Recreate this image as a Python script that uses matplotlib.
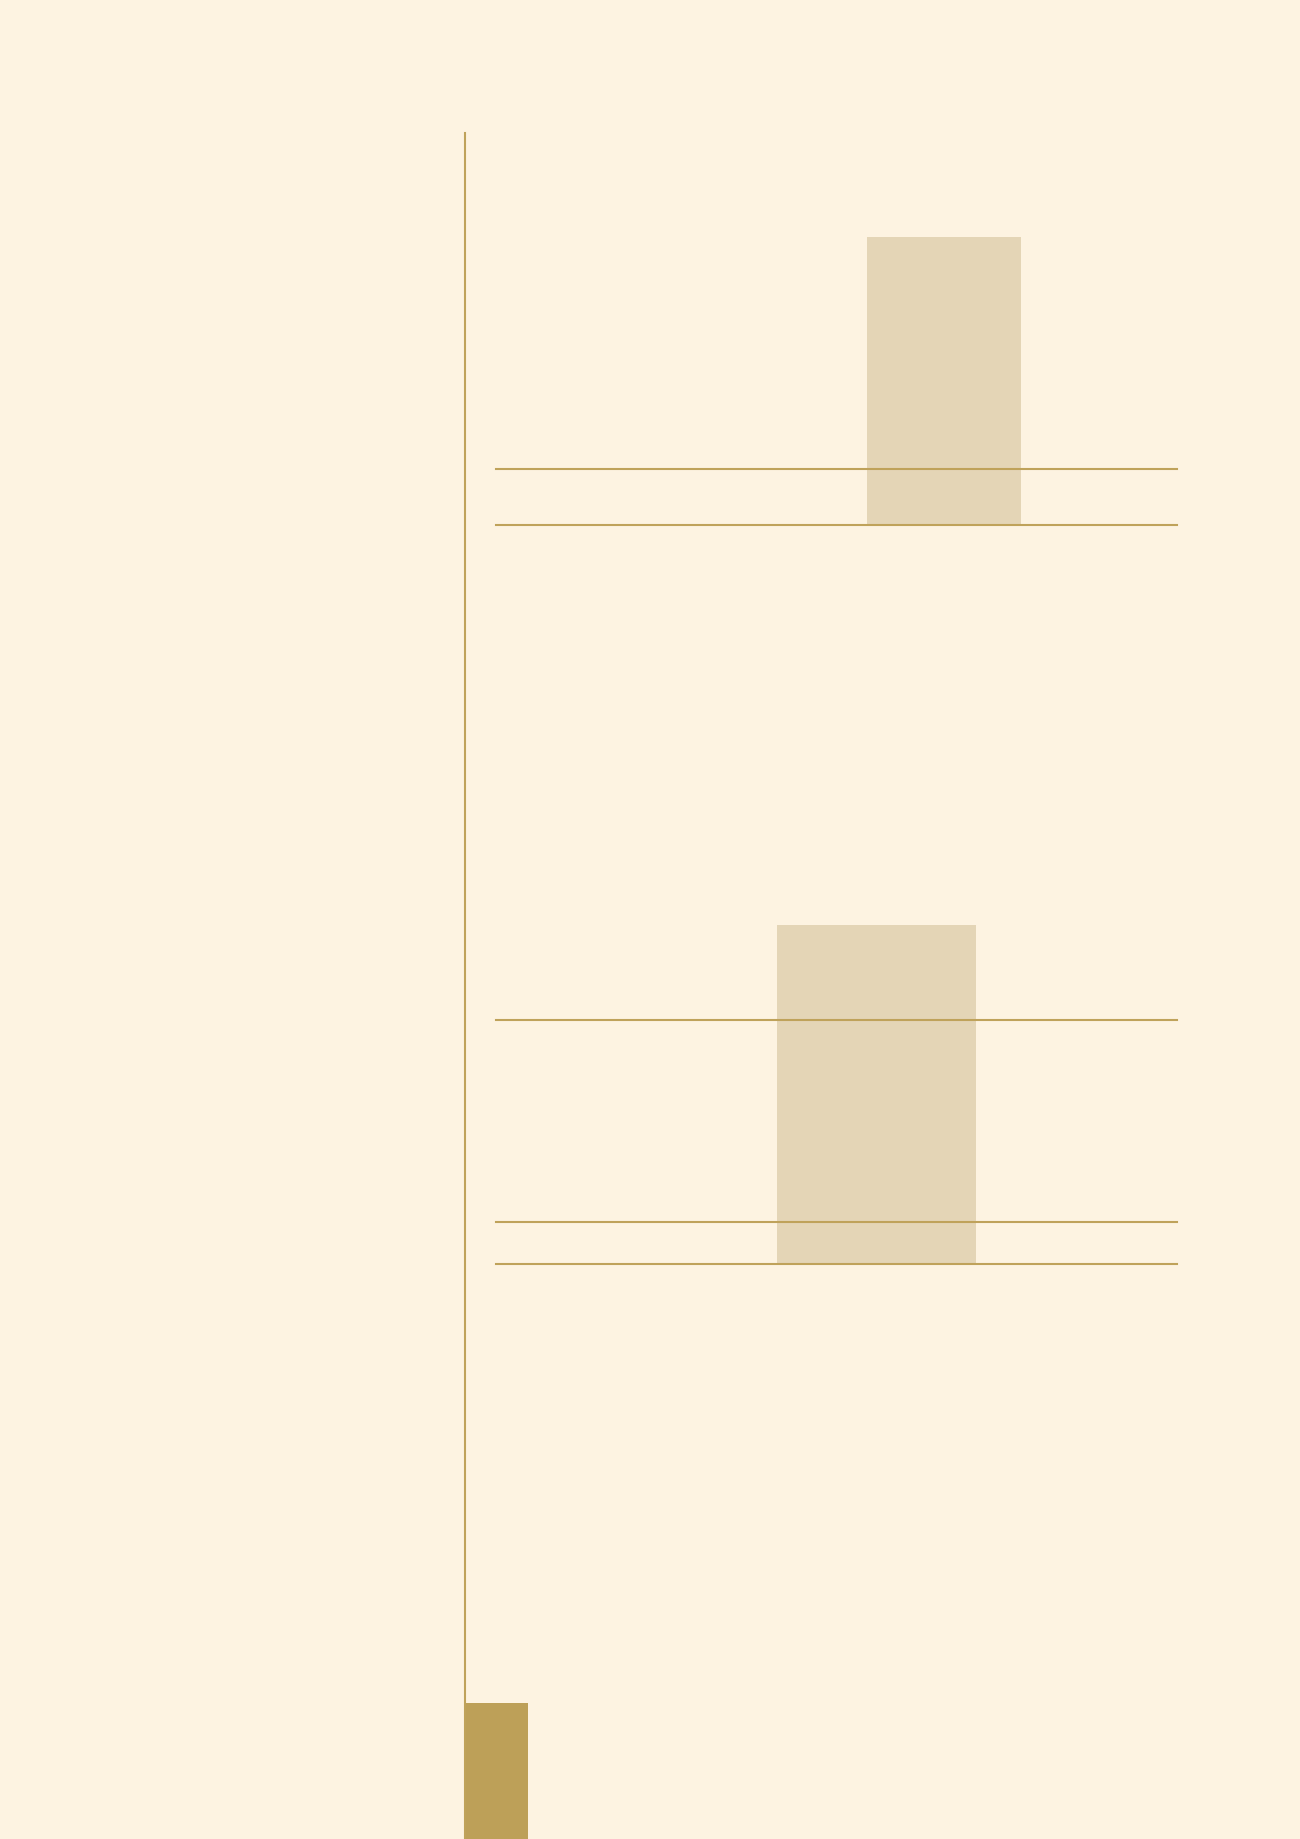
"""
Two single-bar panels with reference lines, on a shared left rule
"""
import matplotlib.pyplot as plt

# panel values (units unknown)
top_bar = [103]
top_levels = [0, 20]
low_bar = [161]
low_levels = [0, 20, 116]
side_bar = [8]

BG = '#FDF3E1'
GOLD = '#BFA25A'
PALE = '#E4D5B6'
DARK = '#BDA058'

W, H = 1300, 1839
fig = plt.figure(figsize=(W / 100, H / 100), dpi=100, facecolor=BG)


def px_axes(left, top, right, bottom):
    # axes box given in pixel edges of the figure
    return fig.add_axes([left / W, 1 - bottom / H, (right - left) / W, (bottom - top) / H])


# Backdrop axes holding the long left rule and the small bar at its foot
base = px_axes(465, 133, 1177, H)
base.set_facecolor('none')
base.bar([0], side_bar, width=1, align='edge', color=DARK, linewidth=0)
base.set_xlim(0, 712 / 63)
base.set_ylim(0, 100)
for side in ['top', 'right', 'bottom']:
    base.spines[side].set_visible(False)
base.spines['left'].set_color(GOLD)
base.spines['left'].set_linewidth(1.5)
base.set_xticks([])
base.set_yticks([])


def panel(ax, bar_vals, levels, xlo, xhi):
    ax.set_facecolor('none')
    ax.bar([0], bar_vals, width=1, color=PALE, linewidth=0, zorder=1)
    for lv in levels:
        ax.axhline(lv, color=GOLD, linewidth=1.5, zorder=2, clip_on=False)
    ax.set_xlim(xlo, xhi)
    ax.set_ylim(0, max(bar_vals))
    ax.axis('off')


ax1 = px_axes(496, 237, 1177, 525)
panel(ax1, top_bar, top_levels, -2.91, 1.51)

ax2 = px_axes(496, 925, 1177, 1264)
panel(ax2, low_bar, low_levels, -1.91, 1.51)

fig.savefig('out.png', dpi=100, facecolor=BG)
